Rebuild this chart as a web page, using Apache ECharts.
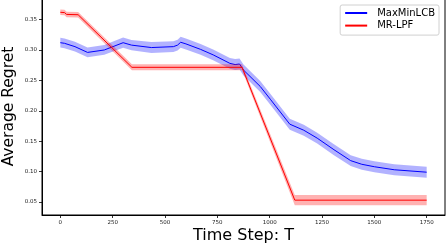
<!DOCTYPE html>
<html><head><meta charset="utf-8">
<script src="https://cdn.jsdelivr.net/npm/echarts@6/dist/echarts.min.js"></script>
<style>html,body{margin:0;padding:0;background:#fff}#c{width:446px;height:244px}</style>
</head><body><div id="c"></div>
<script>
// ---- data ----
const blueName = 'MaxMinLCB';
const redName = 'MR-LPF';
const blueT = [0, 20, 70, 130, 210, 300, 340, 435, 540, 560, 575, 600, 670, 730, 810, 835, 856, 875, 955, 1003, 1096, 1163, 1227, 1307, 1387, 1440, 1500, 1595, 1750];
const blueV = [0.312, 0.311, 0.3055, 0.296, 0.300, 0.312, 0.308, 0.304, 0.3055, 0.308, 0.3127, 0.310, 0.301, 0.292, 0.278, 0.276, 0.277, 0.267, 0.240, 0.219, 0.178, 0.168, 0.155, 0.136, 0.118, 0.112, 0.108, 0.103, 0.099];
const blueErr = [0.008, 0.008, 0.008, 0.008, 0.008, 0.0085, 0.0085, 0.009, 0.009, 0.009, 0.009, 0.009, 0.009, 0.009, 0.009, 0.009, 0.009, 0.009, 0.009, 0.009, 0.009, 0.009, 0.009, 0.009, 0.009, 0.009, 0.009, 0.009, 0.009];
const redT = [0, 20, 30, 85, 342, 868, 1120, 1750];
const redV = [0.362, 0.3615, 0.3585, 0.358, 0.2715, 0.2715, 0.053, 0.053];
const redErr = [0.0045, 0.0045, 0.0045, 0.0045, 0.005, 0.005, 0.0085, 0.0085];
const xTicks = [0, 250, 500, 750, 1000, 1250, 1500, 1750];
const yTicks = [0.05, 0.10, 0.15, 0.20, 0.25, 0.30, 0.35];

const FONT = 'DejaVu Sans';
const chart = echarts.init(document.getElementById('c'), null, {renderer: 'canvas'});

function pairs(t, v) { return t.map((x, i) => [x, v[i]]); }
function band(t, v, e, color, z) {
  return {
    type: 'custom', silent: true, z: z, clip: true,
    data: [[t[0], v[0]]],
    renderItem: function (params, api) {
      const pts = [];
      for (let i = 0; i < t.length; i++) pts.push(api.coord([t[i], v[i] + e[i]]));
      for (let i = t.length - 1; i >= 0; i--) pts.push(api.coord([t[i], v[i] - e[i]]));
      return {type: 'polygon', shape: {points: pts}, style: {fill: color}};
    }
  };
}

chart.setOption({
  animation: false,
  backgroundColor: '#fff',
  grid: {left: 42, right: 1, top: -2, bottom: 29, containLabel: false, outerBoundsMode: 'none',
    show: true, borderColor: '#000', borderWidth: 1, backgroundColor: 'transparent'},
  xAxis: {
    type: 'value', min: -87.5, max: 1837.5,
    name: 'Time Step: T', nameLocation: 'middle', nameGap: 13, nameMoveOverlap: false,
    nameTextStyle: {fontFamily: FONT, fontSize: 16, color: '#000', verticalAlign: 'top'},
    axisLine: {show: true, onZero: false, lineStyle: {color: '#000', width: 1}},
    axisTick: {show: true, inside: false, length: 3, customValues: xTicks, lineStyle: {color: '#000', width: 0.8}},
    axisLabel: {customValues: xTicks, fontFamily: FONT, fontSize: 5.5, color: '#222', margin: 5,
      formatter: v => String(v)},
    splitLine: {show: false}
  },
  yAxis: {
    type: 'value', min: 0.0286, max: 0.3855,
    name: 'Average Regret', nameLocation: 'middle', nameGap: 25, nameMoveOverlap: false,
    nameTextStyle: {fontFamily: FONT, fontSize: 15.5, color: '#000'},
    axisLine: {show: true, onZero: false, lineStyle: {color: '#000', width: 1}},
    axisTick: {show: true, inside: false, length: 3, customValues: yTicks, lineStyle: {color: '#000', width: 0.8}},
    axisLabel: {customValues: yTicks, fontFamily: FONT, fontSize: 5.5, color: '#222', margin: 5,
      formatter: v => v.toFixed(2)},
    splitLine: {show: false}
  },
  legend: {
    orient: 'vertical', right: 7, top: 5,
    data: [blueName, redName],
    itemWidth: 22, itemHeight: 10, itemGap: 2.6,
    itemStyle: {opacity: 0},
    padding: [3, 4, 4.5, 4],
    backgroundColor: '#fff', borderColor: '#d0d0d0', borderWidth: 1, borderRadius: 2,
    textStyle: {fontFamily: FONT, fontSize: 10, color: '#000', lineHeight: 10, padding: [0, 0, 0, 5]}
  },
  series: [
    band(blueT, blueV, blueErr, 'rgba(0,0,255,0.3)', 1),
    {name: blueName, type: 'line', data: pairs(blueT, blueV), showSymbol: false, symbol: 'none', z: 2,
      lineStyle: {color: '#0000ff', width: 1}, itemStyle: {color: '#0000ff'}},
    band(redT, redV, redErr, 'rgba(255,0,0,0.3)', 3),
    {name: redName, type: 'line', data: pairs(redT, redV), showSymbol: false, symbol: 'none', z: 4,
      lineStyle: {color: '#ff0000', width: 1}, itemStyle: {color: '#ff0000'}}
  ]
});
</script></body></html>
